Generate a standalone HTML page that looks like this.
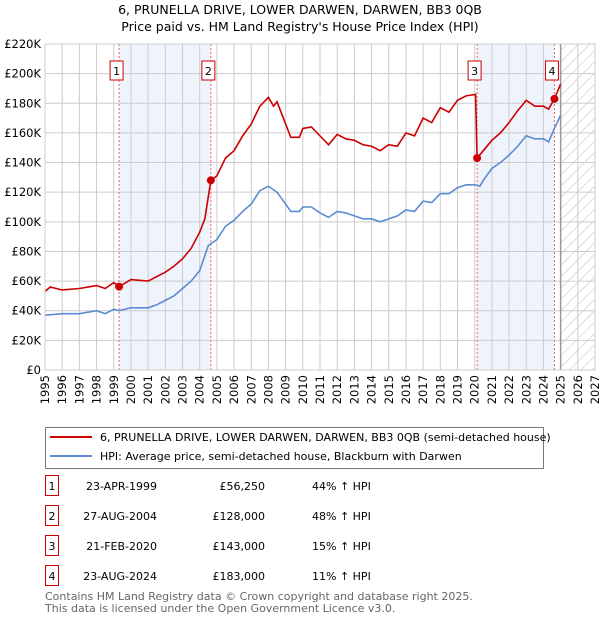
<!DOCTYPE html>
<html><head><meta charset="utf-8"><style>
body{margin:0;background:#fff;font-family:"Liberation Sans","DejaVu Sans",sans-serif;}
svg text{font-family:"DejaVu Sans","Liberation Sans",sans-serif;}
</style></head><body>
<svg id="c" width="600" height="620" viewBox="0 0 600 620" xmlns="http://www.w3.org/2000/svg">
<defs><pattern id="hatch" width="8" height="8" patternUnits="userSpaceOnUse" patternTransform="rotate(45)"><line x1="0" y1="0" x2="0" y2="8" stroke="#bbb" stroke-width="1"/></pattern></defs>
<text x="300" y="14" text-anchor="middle" font-size="12.5" fill="#000">6, PRUNELLA DRIVE, LOWER DARWEN, DARWEN, BB3 0QB</text>
<text x="300" y="31" text-anchor="middle" font-size="12.5" fill="#000">Price paid vs. HM Land Registry's House Price Index (HPI)</text>
<g id="plot"></g>
<g>
<rect x="45.5" y="427.5" width="498" height="41" fill="#fff" stroke="#777"/>
<line x1="50" y1="437" x2="92" y2="437" stroke="#cc0000" stroke-width="2"/>
<text x="100" y="441" font-size="11">6, PRUNELLA DRIVE, LOWER DARWEN, DARWEN, BB3 0QB (semi-detached house)</text>
<line x1="50" y1="456" x2="92" y2="456" stroke="#5b8bd0" stroke-width="2"/>
<text x="100" y="460" font-size="11">HPI: Average price, semi-detached house, Blackburn with Darwen</text>
</g>
<g id="table" font-size="11"></g>
<text x="45" y="600" font-size="11" fill="#666">Contains HM Land Registry data © Crown copyright and database right 2025.</text>
<text x="45" y="612" font-size="11" fill="#666">This data is licensed under the Open Government Licence v3.0.</text>
</svg>
<script>
const yTicks=[0,20,40,60,80,100,120,140,160,180,200,220];
const yLabels=["£0","£20K","£40K","£60K","£80K","£100K","£120K","£140K","£160K","£180K","£200K","£220K"];
const xYears=[1995,1996,1997,1998,1999,2000,2001,2002,2003,2004,2005,2006,2007,2008,2009,2010,2011,2012,2013,2014,2015,2016,2017,2018,2019,2020,2021,2022,2023,2024,2025,2026,2027];
const saleYears=[1999.31,2004.65,2020.14,2024.64];
const salePrices=[56.25,128,143,183];
const saleDates=["23-APR-1999","27-AUG-2004","21-FEB-2020","23-AUG-2024"];
const salePriceLabels=["£56,250","£128,000","£143,000","£183,000"];
const saleHpi=["44% ↑ HPI","48% ↑ HPI","15% ↑ HPI","11% ↑ HPI"];
const redX=[1995,1995.3,1996,1997,1998,1998.5,1999,1999.31,2000,2001,2001.5,2002,2002.5,2003,2003.5,2004,2004.3,2004.65,2005,2005.5,2006,2006.5,2007,2007.5,2008,2008.3,2008.5,2009,2009.3,2009.8,2010,2010.5,2011,2011.5,2012,2012.5,2013,2013.5,2014,2014.5,2015,2015.5,2016,2016.5,2017,2017.5,2018,2018.5,2019,2019.5,2020.05,2020.14,2020.5,2021,2021.5,2022,2022.5,2023,2023.5,2024,2024.3,2024.64,2025];
const redY=[53,56,54,55,57,55,59,56.25,61,60,63,66,70,75,82,93,102,128,131,143,148,158,166,178,184,178,181,166,157,157,163,164,158,152,159,156,155,152,151,148,152,151,160,158,170,167,177,174,182,185,186,143,148,155,160,167,175,182,178,178,176,183,193];
const blueX=[1995,1996,1997,1998,1998.5,1999,1999.3,2000,2001,2001.5,2002,2002.5,2003,2003.5,2004,2004.5,2005,2005.5,2006,2006.5,2007,2007.5,2008,2008.5,2009,2009.3,2009.8,2010,2010.5,2011,2011.5,2012,2012.5,2013,2013.5,2014,2014.5,2015,2015.5,2016,2016.5,2017,2017.5,2018,2018.5,2019,2019.5,2020,2020.3,2020.5,2021,2021.5,2022,2022.5,2023,2023.5,2024,2024.3,2024.64,2025];
const blueY=[37,38,38,40,38,41,40,42,42,44,47,50,55,60,67,84,88,97,101,107,112,121,124,120,112,107,107,110,110,106,103,107,106,104,102,102,100,102,104,108,107,114,113,119,119,123,125,125,124,128,136,140,145,151,158,156,156,154,163,172];
const L=45,R=595,T=44,B=370;
const xs=y=>L+(y-1995)/(2027-1995)*(R-L);
const ys=v=>B-v/220*(B-T);
const NS="http://www.w3.org/2000/svg";
const plot=document.getElementById('plot');
function mk(tag,attrs,parent){const e=document.createElementNS(NS,tag);for(const k in attrs)e.setAttribute(k,attrs[k]);(parent||plot).appendChild(e);return e;}
for(let i=0;i<saleYears.length;i+=2){
 const r=mk('rect',{x:xs(saleYears[i]),y:T,width:xs(saleYears[i+1])-xs(saleYears[i]),height:B-T,fill:'#eef3fc'});
 
 
}
const h=mk('rect',{x:xs(2025),y:T,width:R-xs(2025),height:B-T,fill:'url(#hatch)'});


yTicks.forEach((v,i)=>{
 mk('line',{x1:L,x2:R,y1:ys(v),y2:ys(v),stroke:'#ccc','stroke-width':1});
 const t=mk('text',{x:L-4,y:ys(v)+4,'text-anchor':'end','font-size':11.5});
 t.textContent=yLabels[i];
 
 
});
xYears.forEach(y=>{
 mk('line',{x1:xs(y),x2:xs(y),y1:T,y2:B,stroke:'#ccc','stroke-width':1});
 const t=mk('text',{x:0,y:0,'font-size':11.5,'text-anchor':'end',transform:`translate(${xs(y)+4},${B+5}) rotate(-90)`});
 t.textContent=y;
 
 
});
mk('line',{x1:xs(2025),x2:xs(2025),y1:T,y2:B,stroke:'#999','stroke-width':1.5});
saleYears.forEach((y,i)=>{
 mk('line',{x1:xs(y),x2:xs(y),y1:T,y2:B,stroke:'#e66','stroke-width':1,'stroke-dasharray':'2,2'});
 const g=mk('g',{});
 
 
 mk('rect',{x:xs(y)-9,y:61,width:13,height:19,fill:'#fff',stroke:'#cc0000'},g);
 const t=mk('text',{x:xs(y)-2.5,y:75,'text-anchor':'middle','font-size':11},g);t.textContent=i+1;
});
function line(X,Y,c,n){const p=mk('polyline',{points:X.map((x,i)=>xs(x)+','+ys(Y[i])).join(' '),fill:'none',stroke:c,'stroke-width':1.6});}
line(blueX,blueY,'#5b8bd0','hpi-line');
line(redX,redY,'#cc0000','price-line');
saleYears.forEach((y,i)=>{
 const c=mk('circle',{cx:xs(y),cy:ys(salePrices[i]),r:4,fill:'#cc0000'});
 
 
});
mk('rect',{x:L,y:T,width:R-L,height:B-T,fill:'none',stroke:'#ccc'});
const tb=document.getElementById('table');
saleYears.forEach((y,i)=>{
 const yy=484+i*30;
 const g=mk('g',{},tb);
 
 
 mk('rect',{x:45.5,y:yy-8.5,width:13,height:20,fill:'#fff',stroke:'#cc0000'},g);
 let t=mk('text',{x:52,y:yy+6,'text-anchor':'middle'},g);t.textContent=i+1;
 t=mk('text',{x:157,y:yy+6,'text-anchor':'end'},g);t.textContent=saleDates[i];
 t=mk('text',{x:265,y:yy+6,'text-anchor':'end'},g);t.textContent=salePriceLabels[i];
 t=mk('text',{x:312,y:yy+6},g);t.textContent=saleHpi[i];
});
</script>
</body></html>
